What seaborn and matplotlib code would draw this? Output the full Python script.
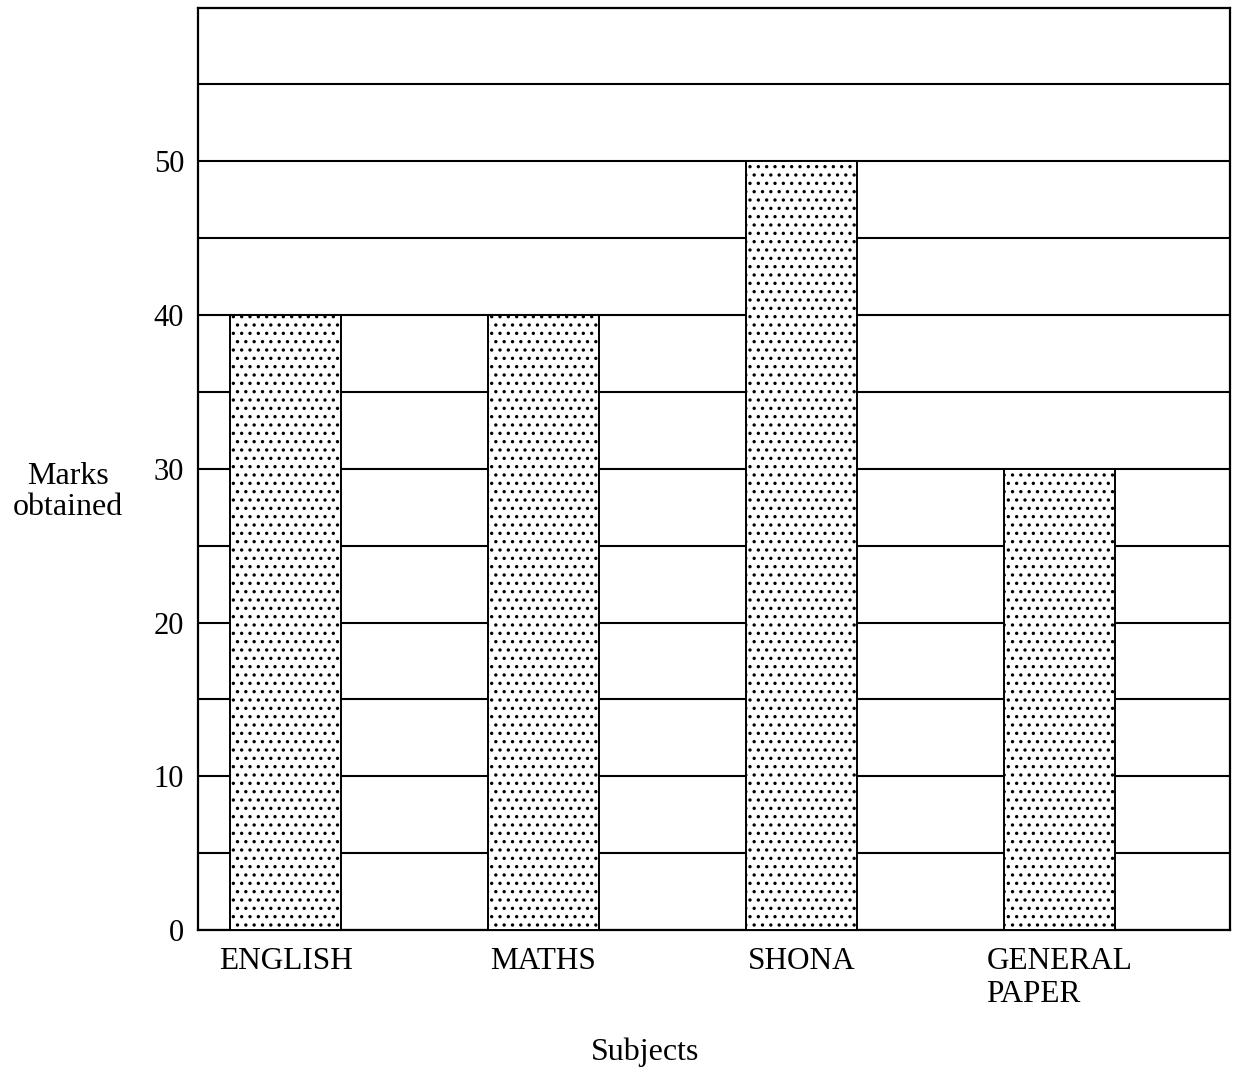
import matplotlib
matplotlib.use("Agg")
import matplotlib.pyplot as plt
import seaborn as sns
import pandas as pd

subjects = ["ENGLISH", "MATHS", "SHONA", "GENERAL\nPAPER"]
marks = [40, 40, 50, 30]
major_ticks = [0, 10, 20, 30, 40, 50]
minor_ticks = [5, 15, 25, 35, 45, 55]

sns.set_theme(style="white")
plt.rcParams['font.family'] = ['Liberation Serif', 'DejaVu Serif']
plt.rcParams['hatch.linewidth'] = 1.2
plt.rcParams['hatch.color'] = '#222222'

df = pd.DataFrame({"Subject": subjects, "Marks": marks})

fig = plt.figure(figsize=(12.37, 10.74), dpi=100)
ax = fig.add_axes([0.160, 0.134, 0.834, 0.859])

sns.barplot(data=df, x="Subject", y="Marks", ax=ax, color="white",
            edgecolor="black", linewidth=1.4, width=0.43, zorder=3)
for p in ax.patches:
    p.set_hatch('..')
    p.set_facecolor('white')

ax.set_ylim(0, 60)
ax.set_xlim(-0.34, 3.66)
ax.set_yticks(major_ticks)
ax.set_yticks(minor_ticks, minor=True)
ax.grid(True, axis='y', which='both', color='black', linewidth=1.5, zorder=1)
ax.set_axisbelow(True)
ax.tick_params(axis='both', which='both', length=0, colors='black')
ax.tick_params(axis='x', pad=12, labelsize=22.5)
ax.tick_params(axis='y', pad=10, labelsize=22)
for lbl in ax.get_xticklabels():
    lbl.set_multialignment('left')
    lbl.set_verticalalignment('top')

for s in ax.spines.values():
    s.set_visible(True)
    s.set_color('black')
    s.set_linewidth(1.6)

ax.set_xlabel("")
ax.set_ylabel("")
fig.text(645 / 1237, 1 - 1052 / 1074, "Subjects", ha='center', va='center',
         fontsize=23, color='black')
fig.text(68 / 1237, 1 - 492 / 1074, "Marks\nobtained", ha='center', va='center',
         fontsize=23, multialignment='center', color='black', linespacing=1.1)

fig.savefig("out.png", dpi=100, facecolor='white')
